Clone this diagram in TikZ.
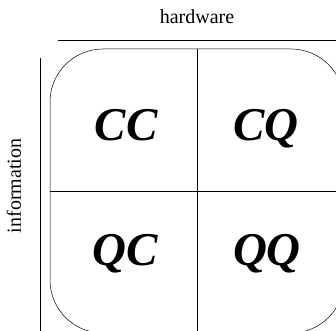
\documentclass[tikz,border=0pt]{standalone}
\usepackage{fontspec}
\setmainfont{Liberation Serif}
\usetikzlibrary{positioning}

\begin{document}
\begin{tikzpicture}[x=1pt,y=1pt]
            \useasboundingbox (0,0) rectangle (336,330);
            \clip (0,0) rectangle (336,330);
            \tikzset{quad/.style={font=\fontsize{47}{50}\selectfont\bfseries\itshape, anchor=base, inner sep=0pt},
                     axis/.style={line width=0.5pt}}

            \node [draw, line width=0.5pt, rounded corners=53pt, minimum width=294pt, minimum height=284pt, inner sep=0pt] (box) at (197,139) {};
            \draw [line width=0.5pt] (box.north) -- (box.south);
            \draw [line width=0.5pt] (box.west) -- (box.east);

            \node [quad] (CC) at (126,190) {CC};
            \node [quad] (CQ) at (266,190) {CQ};
            \node [quad] (QC) at (125,65) {QC};
            \node [quad] (QQ) at (267,65) {QQ};

            % axes with their captions
            \coordinate (hw1) at (58,290);
            \coordinate (hw2) at (340,290);
            \coordinate (in1) at (40,272);
            \coordinate (in2) at (40,-5);
            \draw [axis] (hw1) -- (hw2);
            \draw [axis] (in1) -- (in2);
            \node [font=\fontsize{20}{22}\selectfont] (hw) at (197,313) {hardware};
            \node [font=\fontsize{20}{22}\selectfont, rotate=90] (info) at (14,144) {information};
        \end{tikzpicture}
\end{document}
